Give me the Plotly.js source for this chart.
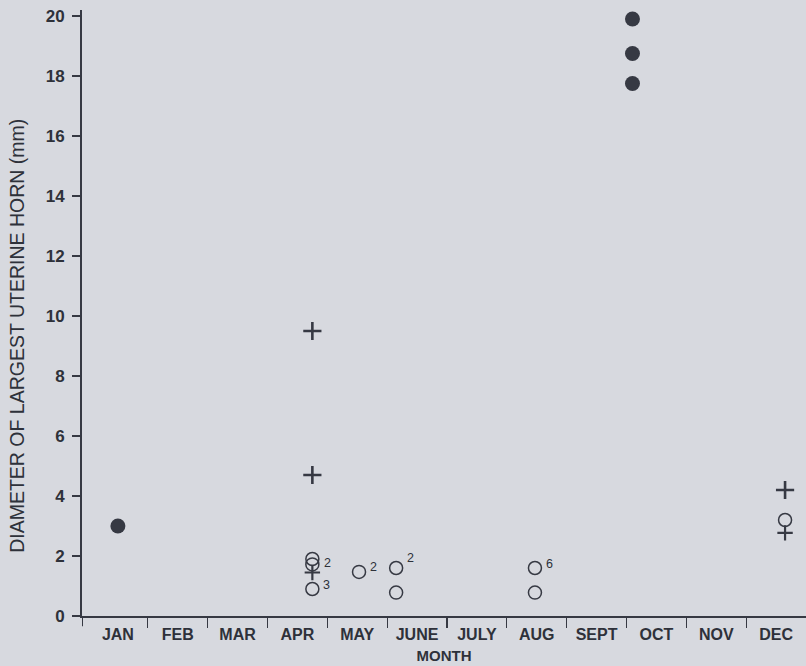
<!DOCTYPE html>
<html>
<head>
<meta charset="utf-8">
<script src="https://cdn.plot.ly/plotly-3.0.1.min.js"></script>
<style>
  html, body { margin: 0; padding: 0; background: #d7d9df; }
  #chart { width: 806px; height: 666px; }
</style>
</head>
<body>
<div id="chart"></div>
<script>
// Month axis
const months = ['JAN', 'FEB', 'MAR', 'APR', 'MAY', 'JUNE', 'JULY', 'AUG', 'SEPT', 'OCT', 'NOV', 'DEC'];
const monthPos = [1, 2, 3, 4, 5, 6, 7, 8, 9, 10, 11, 12];
const monthEdges = [1.5, 2.5, 3.5, 4.5, 5.5, 6.5, 7.5, 8.5, 9.5, 10.5, 11.5];
const yTicks = [0, 2, 4, 6, 8, 10, 12, 14, 16, 18, 20];

// Filled circles
const filledX = [1, 9.6, 9.6, 9.6];
const filledY = [3.0, 19.9, 18.75, 17.75];

// Open circles, with the number of animals they stand for
const openX = [4.25, 4.25, 5.03, 5.65, 5.65, 7.97, 7.97];
const openY = [1.9, 0.9, 1.47, 1.6, 0.78, 1.6, 0.78];
const openCount = ['', '3', '2', '2', '', '6', ''];

// Crosses
const crossX = [4.25, 4.25, 12.15];
const crossY = [9.5, 4.7, 4.2];

// Female symbols (ring and the cross hanging below it)
const femaleX = [4.25, 12.15];
const femaleY = [1.72, 3.2];
const femaleCount = ['2', ''];
const femaleCrossY = [1.45, 2.77];

const ink = '#363943';
const textInk = '#2e313a';
const family = 'Liberation Sans, Arial, sans-serif';

const traces = [
  {
    x: filledX, y: filledY, mode: 'markers', type: 'scatter', cliponaxis: false,
    marker: { symbol: 'circle', size: 15, color: ink, line: { width: 0 } }
  },
  {
    x: openX, y: openY, mode: 'markers', type: 'scatter', cliponaxis: false,
    marker: { symbol: 'circle-open', size: 13, color: ink, line: { width: 1.5, color: ink } }
  },
  {
    x: femaleX, y: femaleCrossY, mode: 'markers', type: 'scatter', cliponaxis: false,
    marker: { symbol: 'cross-thin-open', size: 11, color: ink, line: { width: 2.2, color: ink } }
  },
  {
    x: femaleX, y: femaleY, mode: 'markers', type: 'scatter', cliponaxis: false,
    marker: { symbol: 'circle-open', size: 13, color: ink, line: { width: 1.5, color: ink } }
  },
  {
    x: crossX, y: crossY, mode: 'markers', type: 'scatter', cliponaxis: false,
    marker: { symbol: 'cross-thin-open', size: 13, color: ink, line: { width: 2.6, color: ink } }
  },
  // carries the month names on the overlaid axis
  {
    x: monthPos, y: monthPos.map(() => null), xaxis: 'x2', mode: 'markers', type: 'scatter',
    hoverinfo: 'skip'
  }
];

// count labels sit just right of their symbols, a little raised
const countFont = { family: family, size: 12.5, color: textInk };
const openShift = [0, 4, 5, 10, 0, 4, 0];
const annotations = [];
openCount.forEach((t, i) => {
  if (t) annotations.push({
    x: openX[i], y: openY[i], xref: 'x', yref: 'y', text: t, showarrow: false,
    xanchor: 'left', yanchor: 'middle', xshift: 9, yshift: openShift[i], font: countFont
  });
});
femaleCount.forEach((t, i) => {
  if (t) annotations.push({
    x: femaleX[i], y: femaleY[i], xref: 'x', yref: 'y', text: t, showarrow: false,
    xanchor: 'left', yanchor: 'middle', xshift: 10, yshift: 1, font: countFont
  });
});
// vertical axis title
annotations.push({
  xref: 'paper', yref: 'paper', x: -0.09, y: 0.462, textangle: -90,
  text: 'DIAMETER OF LARGEST UTERINE HORN (mm)', showarrow: false,
  xanchor: 'center', yanchor: 'middle',
  font: { family: family, size: 19.5, color: textInk }
});

const layout = {
  width: 806, height: 666,
  paper_bgcolor: '#d7d9df',
  plot_bgcolor: '#d7d9df',
  showlegend: false,
  margin: { l: 82, r: 0, t: 10, b: 50, pad: 0 },
  font: { family: family, size: 14, color: textInk },
  xaxis: {
    range: [0.4, 12.5],
    showgrid: false, zeroline: false,
    showline: true, linecolor: ink, linewidth: 2,
    tickmode: 'array', tickvals: monthEdges, ticktext: monthEdges.map(() => ''),
    ticks: 'outside', ticklen: 10, tickwidth: 1.2, tickcolor: ink,
    showticklabels: false,
    title: { text: '' }
  },
  xaxis2: {
    overlaying: 'x', side: 'bottom', anchor: 'y',
    range: [0.4, 12.5],
    showgrid: false, zeroline: false, showline: false,
    tickmode: 'array', tickvals: monthPos, ticktext: months,
    ticks: '', ticklabelstandoff: 7,
    tickfont: { family: family, size: 16, color: textInk, weight: 'bold' },
    title: { text: 'MONTH', font: { family: family, size: 15, color: textInk, weight: 'bold' }, standoff: 8 }
  },
  yaxis: {
    range: [0, 20.2],
    showgrid: false, zeroline: false,
    showline: true, linecolor: ink, linewidth: 2,
    tickmode: 'array', tickvals: yTicks,
    ticks: 'outside', ticklen: 8, tickwidth: 1.2, tickcolor: ink,
    tickfont: { family: family, size: 17, color: textInk, weight: 'bold' },
    ticklabelstandoff: 4,
    title: { text: '' }
  },
  annotations: annotations,
  shapes: [
    // axis foot below the origin
    { type: 'line', xref: 'x', yref: 'paper', x0: 0.4, x1: 0.4, y0: -0.017, y1: 0, line: { color: ink, width: 2 } }
  ]
};

Plotly.newPlot('chart', traces, layout, { displayModeBar: false, staticPlot: true });
</script>
</body>
</html>
